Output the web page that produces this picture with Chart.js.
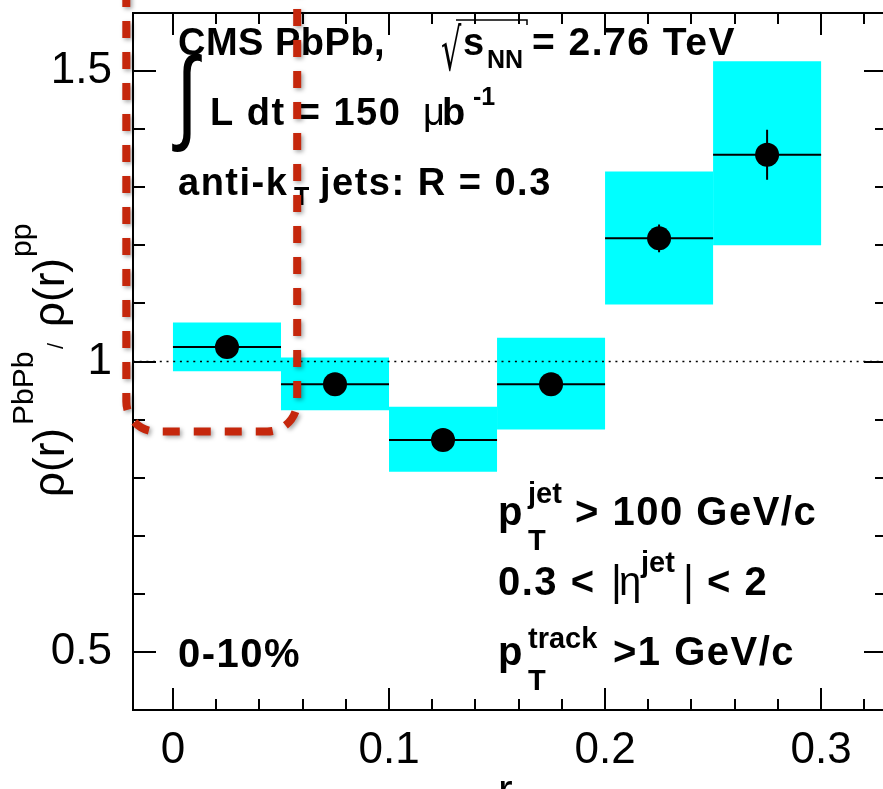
<!DOCTYPE html>
<html>
<head>
<meta charset="utf-8">
<script src="https://cdn.jsdelivr.net/npm/chart.js@4.4.0/dist/chart.umd.min.js"></script>
<style>
  html, body { margin:0; padding:0; overflow:hidden; background:#fff; }
  #wrap { position:relative; width:900px; height:830px; }
</style>
</head>
<body>
<div id="wrap"><canvas id="c"></canvas></div>
<script>
// jet shape ratio PbPb / pp, 0-10% centrality
const binLow    = [0.00, 0.05, 0.10, 0.15, 0.20, 0.25];
const binHigh   = [0.05, 0.10, 0.15, 0.20, 0.25, 0.30];
const binCenter = [0.025, 0.075, 0.125, 0.175, 0.225, 0.275];
const ratio     = [1.025, 0.961, 0.865, 0.961, 1.212, 1.356];
const statErr   = [0.010, 0.010, 0.012, 0.014, 0.024, 0.043];
const sysLow    = [0.983, 0.916, 0.810, 0.883, 1.098, 1.200];
const sysHigh   = [1.067, 1.007, 0.922, 1.041, 1.327, 1.517];

const xTicks      = [0, 0.1, 0.2, 0.3];
const xTickLabels = ['0', '0.1', '0.2', '0.3'];
const yTicks      = [0.5, 1, 1.5];
const yTickLabels = ['0.5', '1', '1.5'];
const refLine = 1;

// highlighted region (red dashed outline), in data units
const markX = [-0.0216, 0.0575];
const markYLow = 0.8795;

const X_MIN = -0.0185, X_MAX = 0.3305, Y_MIN = 0.4, Y_MAX = 1.6;
const FONT = 'Liberation Sans';

const boxData = binCenter.map((x, i) => ({x, y: [sysLow[i], sysHigh[i]]}));
const hErr = [];
binCenter.forEach((x, i) => {
  hErr.push({x: binLow[i], y: ratio[i]}, {x: binHigh[i], y: ratio[i]}, {x: binHigh[i], y: null});
});
const vErr = [];
binCenter.forEach((x, i) => {
  vErr.push({x, y: ratio[i] - statErr[i]}, {x, y: ratio[i] + statErr[i]}, {x, y: null});
});
const points = binCenter.map((x, i) => ({x, y: ratio[i]}));

function put(ctx, t, x, y, size, bold, ls) {
  ctx.font = (bold ? 'bold ' : '') + size + 'px "' + FONT + '"';
  ctx.letterSpacing = (ls || 0) + 'px';
  ctx.fillText(t, x, y);
  ctx.letterSpacing = '0px';
}

const framePlugin = {
  id: 'frame',
  afterDatasetsDraw(chart) {
    const {ctx, chartArea: a} = chart;
    const xs = chart.scales.x, ys = chart.scales.y;
    ctx.save();
    ctx.strokeStyle = '#000';
    ctx.lineWidth = 2;
    ctx.strokeRect(a.left, a.top, a.right - a.left, a.bottom - a.top);
    ctx.beginPath();
    const xStep = (xTicks[1] - xTicks[0]) / 5;
    for (let i = -1; i < xTicks.length; i++) {
      const base = i < 0 ? xTicks[0] - 5 * xStep : xTicks[i];
      for (let k = 0; k < 5; k++) {
        const v = base + k * xStep;
        if (v <= X_MIN || v >= X_MAX) continue;
        const len = k === 0 ? 22 : 11;
        const p = Math.round(xs.getPixelForValue(v));
        ctx.moveTo(p, a.bottom); ctx.lineTo(p, a.bottom - len);
        ctx.moveTo(p, a.top); ctx.lineTo(p, a.top + len);
      }
    }
    const yStep = (yTicks[1] - yTicks[0]) / 5;
    for (let i = -1; i < yTicks.length; i++) {
      const base = i < 0 ? yTicks[0] - 5 * yStep : yTicks[i];
      for (let k = 0; k < 5; k++) {
        const v = base + k * yStep;
        if (v <= Y_MIN + 1e-9 || v >= Y_MAX - 1e-9) continue;
        const len = k === 0 ? 23 : 12;
        const p = Math.round(ys.getPixelForValue(v));
        ctx.moveTo(a.left, p); ctx.lineTo(a.left + len, p);
        ctx.moveTo(a.right, p); ctx.lineTo(a.right - len, p);
      }
    }
    ctx.stroke();
    ctx.restore();
  }
};

const textPlugin = {
  id: 'texts',
  afterDraw(chart) {
    const {ctx} = chart;
    const xs = chart.scales.x, ys = chart.scales.y;
    ctx.save();
    ctx.fillStyle = '#000';
    ctx.textBaseline = 'alphabetic';
    ctx.textAlign = 'left';

    // upper-left block
    put(ctx, 'CMS PbPb,', 178, 55, 38, true, 0.5);
    ctx.save();
    ctx.translate(441, 70);
    ctx.scale(0.55, 1);
    ctx.font = '58px "DejaVu Sans"';
    ctx.fillText('\u221A', 0, 0);
    ctx.restore();
    ctx.strokeStyle = '#000';
    ctx.lineWidth = 1.5;
    ctx.beginPath();
    ctx.moveTo(456, 20); ctx.lineTo(527, 20); ctx.lineTo(527, 25);
    ctx.stroke();
    put(ctx, 's', 463, 55, 38, true);
    put(ctx, 'NN', 487, 68, 25, true);
    put(ctx, '= 2.76 TeV', 532, 55, 39, true, 1.5);

    ctx.save();
    ctx.translate(176, 130);
    ctx.scale(1, 1.3);
    ctx.font = '80px "Liberation Sans"';
    ctx.fillText('\u222B', 0, 0);
    ctx.restore();
    put(ctx, 'L dt = 150', 210, 125, 38, true, 1.5);
    put(ctx, '\u03BC', 423, 125, 38, false);
    put(ctx, 'b', 442, 125, 38, true);
    put(ctx, '-1', 473, 105, 25, true);

    put(ctx, 'anti-k', 178, 195, 38, true, 1.5);
    put(ctx, 'T', 294, 205, 25, true);
    put(ctx, 'jets: R = 0.3', 320, 195, 38, true, 1.5);

    put(ctx, '0-10%', 178, 667, 40, true, 1.5);

    // lower-right block
    put(ctx, 'p', 498, 525, 40, true);
    put(ctx, 'jet', 528, 503, 29, true);
    put(ctx, 'T', 528, 550, 29, true);
    put(ctx, '> 100 GeV/c', 575, 525, 40, true, 1.5);

    put(ctx, '0.3 <', 498, 595, 40, true, 1.5);
    put(ctx, '|', 611, 595, 42, false);
    put(ctx, '\u03B7', 619, 595, 40, false);
    put(ctx, 'jet', 641, 572, 29, true);
    put(ctx, '|', 683, 595, 42, false);
    put(ctx, '< 2', 707, 595, 40, true, 1.5);

    put(ctx, 'p', 498, 665, 40, true);
    put(ctx, 'track', 528, 648, 29, true);
    put(ctx, 'T', 528, 690, 29, true);
    put(ctx, '>1 GeV/c', 613, 665, 40, true, 1.5);

    // axis titles
    put(ctx, 'r', 498, 805, 44, false);
    ctx.save();
    ctx.translate(64, 497);
    ctx.rotate(-Math.PI / 2);
    put(ctx, '\u03C1(r)', 0, 0, 44, false);
    put(ctx, 'PbPb', 72, -31, 30, false);
    put(ctx, '/', 148, -1, 22, false);
    put(ctx, '\u03C1(r)', 170, 0, 44, false);
    put(ctx, 'pp', 240, -33, 30, false);
    ctx.restore();

    // red dashed highlight
    const L = xs.getPixelForValue(markX[0]);
    const R = xs.getPixelForValue(markX[1]);
    const B = ys.getPixelForValue(markYLow);
    const r = 30;
    ctx.save();
    ctx.strokeStyle = '#c5270c';
    ctx.lineWidth = 8;
    ctx.setLineDash([17, 14]);
    ctx.shadowColor = 'rgba(0,0,0,0.35)';
    ctx.shadowBlur = 4;
    ctx.shadowOffsetX = 2;
    ctx.shadowOffsetY = 2;
    ctx.beginPath();
    ctx.moveTo(L, -10);
    ctx.lineTo(L, B - r);
    ctx.arcTo(L, B, L + r, B, r);
    ctx.lineTo(R - r, B);
    ctx.arcTo(R, B, R, B - r, r);
    ctx.lineTo(R, -10);
    ctx.stroke();
    ctx.restore();

    ctx.restore();
  }
};

new Chart(document.getElementById('c'), {
  type: 'bar',
  data: {
    datasets: [
      {
        type: 'bar', data: boxData, backgroundColor: '#00ffff', borderWidth: 0,
        barPercentage: 1, categoryPercentage: 1, inflateAmount: 0, order: 5
      },
      {
        type: 'line', data: [{x: X_MIN, y: refLine}, {x: X_MAX, y: refLine}],
        borderColor: '#000', borderWidth: 1.5, borderDash: [2, 4.7], pointRadius: 0, order: 4
      },
      {
        type: 'line', data: hErr, borderColor: '#000', borderWidth: 2,
        pointRadius: 0, spanGaps: false, order: 3
      },
      {
        type: 'line', data: vErr, borderColor: '#000', borderWidth: 2,
        pointRadius: 0, spanGaps: false, order: 2
      },
      {
        type: 'line', data: points, showLine: false, pointRadius: 12,
        pointBackgroundColor: '#000', pointBorderColor: '#000', pointBorderWidth: 0, order: 1
      }
    ]
  },
  options: {
    responsive: true,
    maintainAspectRatio: false,
    animation: false,
    events: [],
    layout: {padding: {top: 13, right: 13, left: 0, bottom: 0}},
    plugins: {legend: {display: false}, tooltip: {enabled: false}},
    scales: {
      x: {
        type: 'linear', min: X_MIN, max: X_MAX, offset: false,
        grid: {display: false}, border: {display: false},
        afterBuildTicks: s => { s.ticks = xTicks.map(v => ({value: v})); },
        afterFit: s => { s.height = 120; s.paddingLeft = 0; s.paddingRight = 0; },
        ticks: {
          color: '#000', padding: 6, maxRotation: 0, autoSkip: false,
          font: {family: FONT, size: 44, lineHeight: 1.2},
          callback: (v, i) => xTickLabels[i]
        }
      },
      y: {
        type: 'linear', min: Y_MIN, max: Y_MAX,
        grid: {display: false}, border: {display: false},
        afterBuildTicks: s => { s.ticks = yTicks.map(v => ({value: v})); },
        afterFit: s => { s.width = 133; s.paddingTop = 0; s.paddingBottom = 0; },
        ticks: {
          color: '#000', padding: 13, autoSkip: false,
          font: {family: FONT, size: 44},
          callback: (v, i) => yTickLabels[i]
        }
      }
    }
  },
  plugins: [framePlugin, textPlugin]
});
</script>
</body>
</html>
